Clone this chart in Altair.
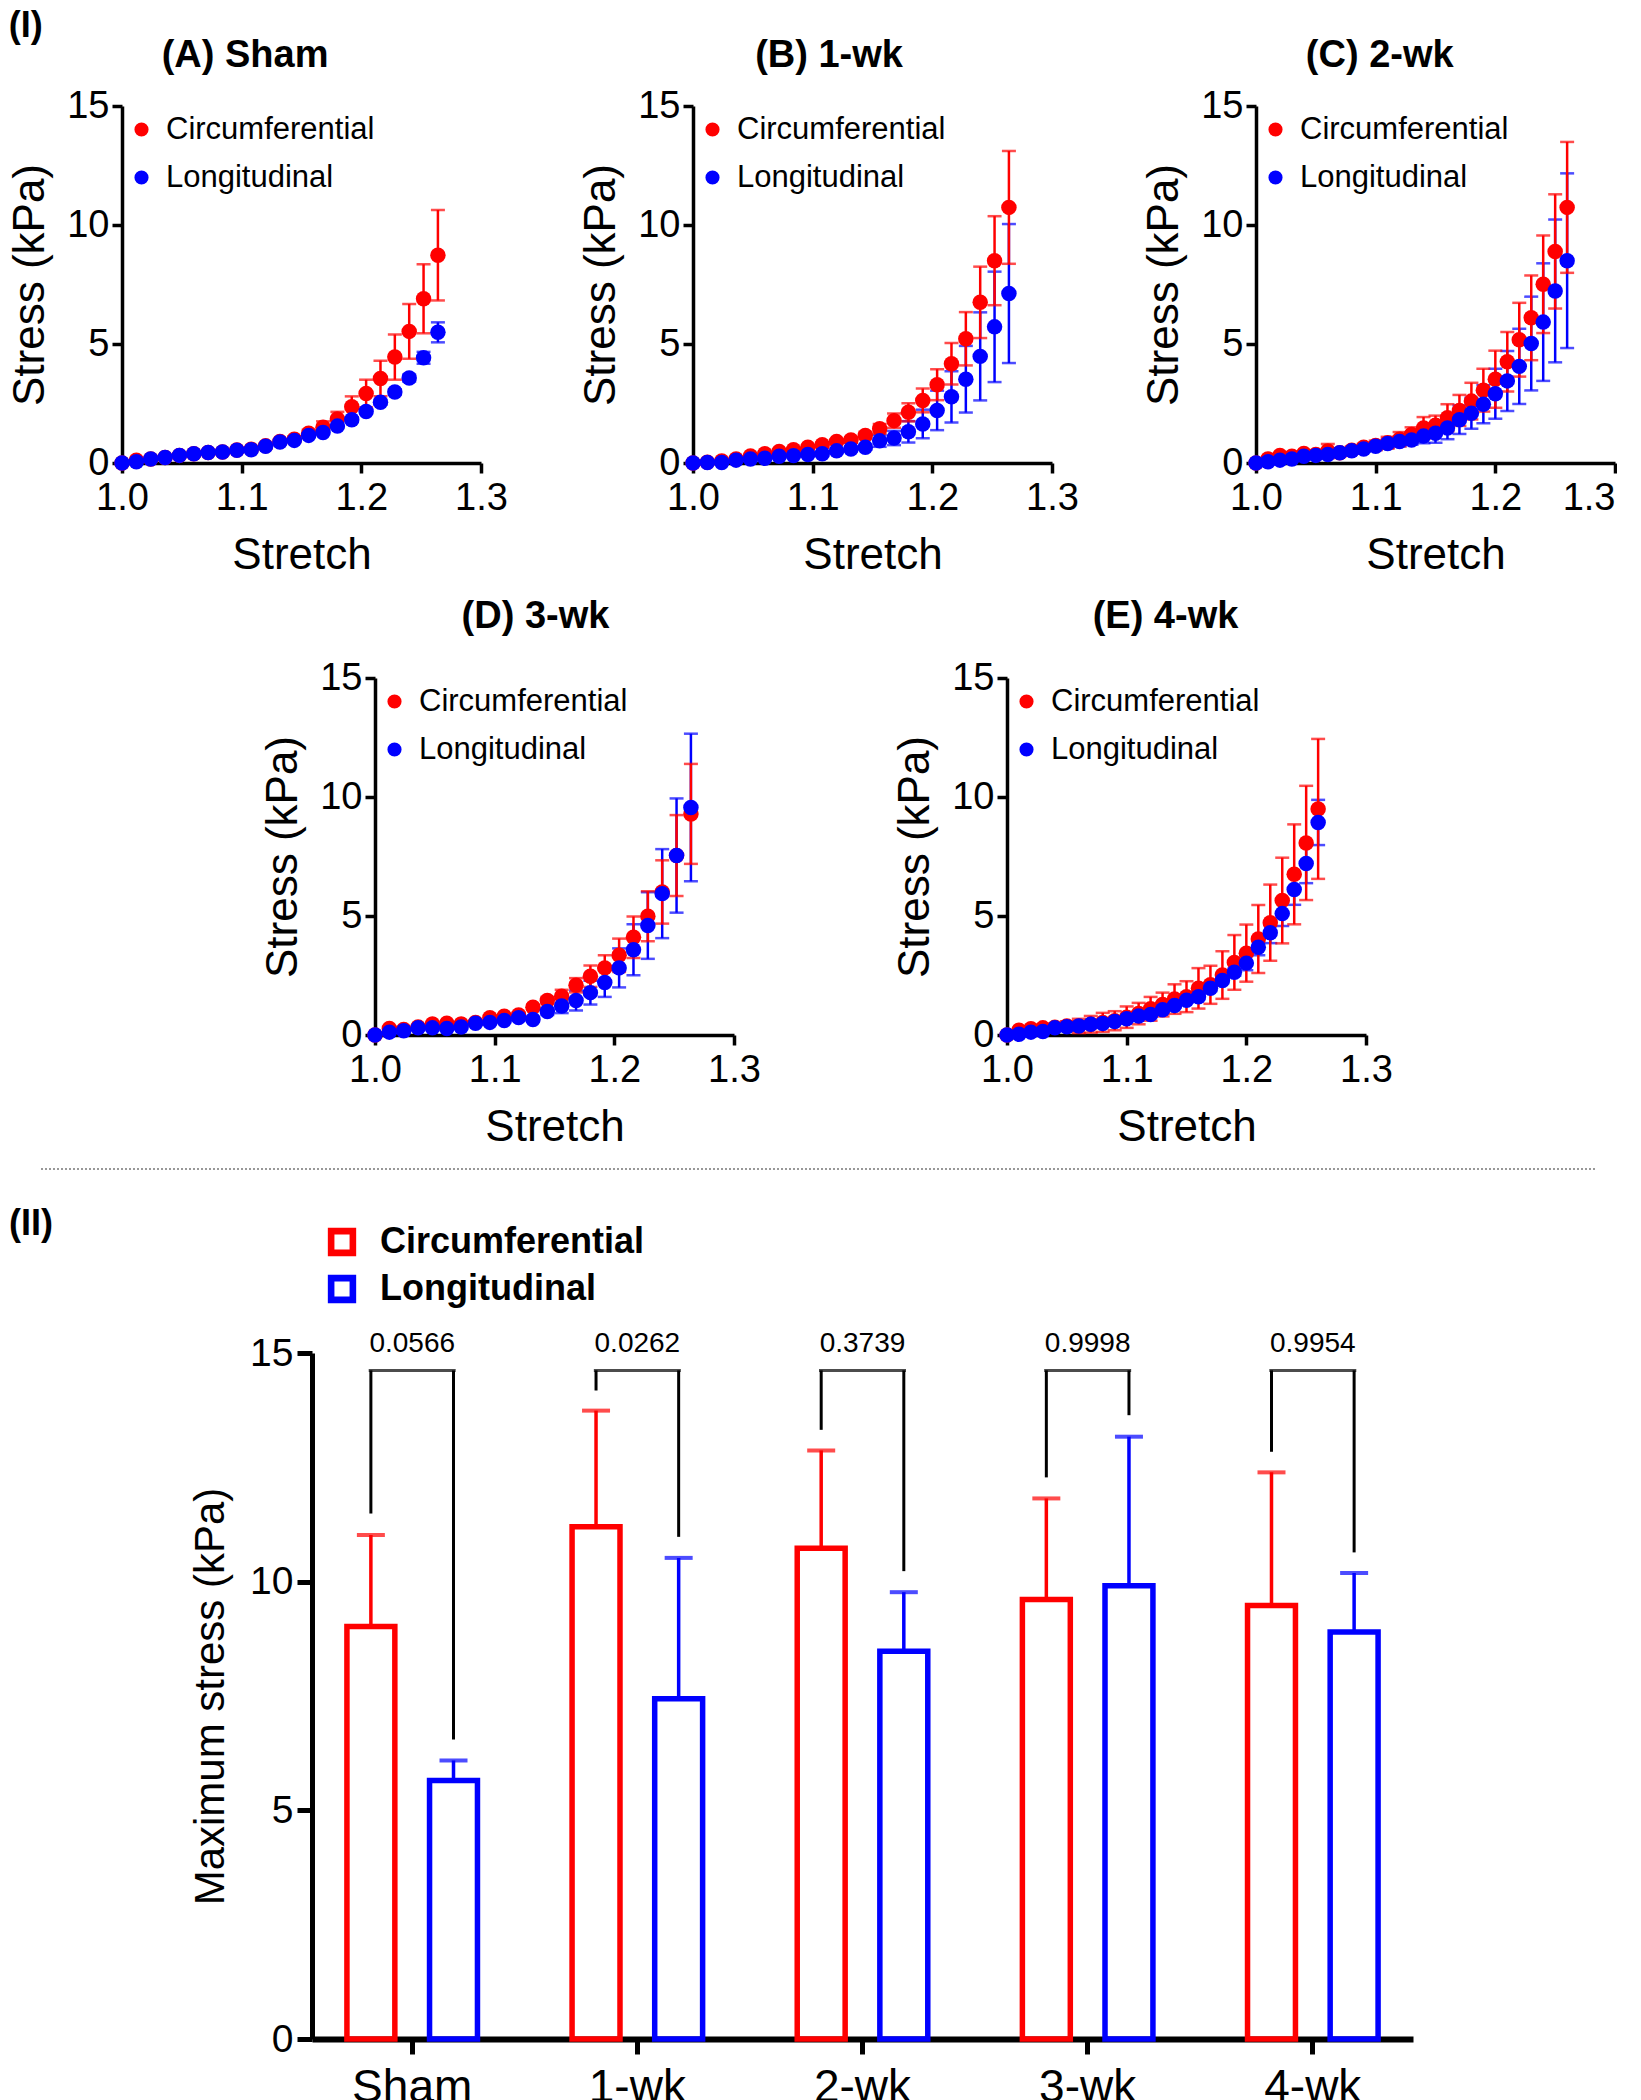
import altair as alt
import pandas as pd

FONT = "Liberation Sans"
RED = "#ff0000"
BLUE = "#0000ff"
SERIES = ["Circumferential", "Longitudinal"]

# ---------------- Panel data (stress-stretch curves) ----------------
stretch_12 = [1.000, 1.012, 1.024, 1.036, 1.048, 1.060, 1.072, 1.084, 1.096, 1.108, 1.120, 1.132,
              1.144, 1.156, 1.168, 1.180, 1.192, 1.204, 1.216, 1.228, 1.240, 1.252, 1.264]
stretch_10 = [1.00, 1.01, 1.02, 1.03, 1.04, 1.05, 1.06, 1.07, 1.08, 1.09, 1.10, 1.11, 1.12, 1.13,
              1.14, 1.15, 1.16, 1.17, 1.18, 1.19, 1.20, 1.21, 1.22, 1.23, 1.24, 1.25, 1.26]

# (A) Sham
a_circ_mean = [0, 0.12, 0.17, 0.23, 0.32, 0.39, 0.44, 0.46, 0.55, 0.58, 0.72, 0.90, 1.00, 1.25, 1.50,
               1.85, 2.36, 2.92, 3.55, 4.45, 5.53, 6.90, 8.73]
a_circ_sd = [0, 0.03, 0.03, 0.03, 0.04, 0.05, 0.05, 0.06, 0.07, 0.08, 0.10, 0.10, 0.12, 0.15, 0.25,
             0.30, 0.44, 0.58, 0.75, 0.95, 1.15, 1.45, 1.90]
a_long_mean = [0, 0.05, 0.17, 0.23, 0.32, 0.39, 0.44, 0.46, 0.54, 0.56, 0.70, 0.88, 0.95, 1.16, 1.28,
               1.55, 1.82, 2.16, 2.55, 2.98, 3.57, 4.42, 5.49]
a_long_sd = [0, 0, 0, 0, 0, 0, 0, 0, 0, 0, 0, 0, 0, 0, 0.05, 0.05, 0.08, 0.10, 0.10, 0.12, 0.15, 0.25, 0.42]

# (B) 1-wk
b_circ_mean = [0, 0.03, 0.08, 0.17, 0.29, 0.39, 0.48, 0.56, 0.66, 0.77, 0.90, 0.97, 1.16, 1.44, 1.78,
               2.13, 2.63, 3.29, 4.17, 5.22, 6.75, 8.50, 10.74]
b_circ_sd = [0, 0, 0.02, 0.03, 0.04, 0.05, 0.06, 0.07, 0.08, 0.08, 0.10, 0.12, 0.15, 0.20, 0.30,
             0.38, 0.50, 0.65, 0.87, 1.12, 1.50, 1.87, 2.37]
b_long_mean = [0, 0.02, 0.02, 0.12, 0.17, 0.20, 0.28, 0.31, 0.36, 0.39, 0.51, 0.59, 0.66, 0.93, 1.05,
               1.31, 1.64, 2.21, 2.78, 3.52, 4.48, 5.72, 7.12]
b_long_sd = [0, 0, 0, 0.02, 0.03, 0.04, 0.05, 0.05, 0.06, 0.07, 0.08, 0.10, 0.10, 0.25, 0.30, 0.45,
             0.60, 0.83, 1.08, 1.40, 1.85, 2.32, 2.92]

# (C) 2-wk
c_circ_mean = [0, 0.17, 0.32, 0.28, 0.40, 0.36, 0.50, 0.43, 0.54, 0.66, 0.74, 0.85, 1.00, 1.20, 1.47,
               1.59, 1.90, 2.21, 2.60, 3.06, 3.52, 4.25, 5.18, 6.10, 7.51, 8.89, 10.74]
c_circ_sd = [0, 0.05, 0.08, 0.10, 0.10, 0.12, 0.30, 0.15, 0.15, 0.15, 0.20, 0.25, 0.30, 0.30, 0.46,
             0.40, 0.57, 0.65, 0.77, 0.90, 1.20, 1.25, 1.55, 1.78, 2.05, 2.40, 2.75]
c_long_mean = [0, 0.05, 0.12, 0.17, 0.28, 0.32, 0.36, 0.43, 0.51, 0.59, 0.70, 0.82, 0.90, 0.97, 1.13,
               1.25, 1.47, 1.82, 2.09, 2.47, 2.91, 3.45, 4.06, 5.02, 5.92, 7.23, 8.50]
c_long_sd = [0, 0.03, 0.05, 0.06, 0.08, 0.08, 0.10, 0.10, 0.10, 0.12, 0.15, 0.18, 0.20, 0.20, 0.30,
             0.40, 0.47, 0.60, 0.65, 0.80, 1.05, 1.26, 1.58, 1.97, 2.47, 3.00, 3.67]

# (D) 3-wk
d_circ_mean = [0, 0.27, 0.23, 0.34, 0.46, 0.49, 0.46, 0.53, 0.73, 0.79, 0.84, 1.17, 1.45, 1.63, 2.09,
               2.47, 2.82, 3.35, 4.11, 4.99, 6.01, 7.54, 9.29]
d_circ_sd = [0, 0.03, 0.03, 0.04, 0.05, 0.05, 0.06, 0.06, 0.08, 0.08, 0.10, 0.10, 0.15, 0.27, 0.30,
             0.45, 0.53, 0.70, 0.87, 1.05, 1.33, 1.70, 2.10]
d_long_mean = [0, 0.12, 0.18, 0.30, 0.30, 0.27, 0.34, 0.49, 0.53, 0.61, 0.73, 0.65, 0.99, 1.22, 1.45,
               1.78, 2.21, 2.82, 3.58, 4.60, 5.94, 7.54, 9.56]
d_long_sd = [0, 0.02, 0.03, 0.03, 0.04, 0.05, 0.05, 0.06, 0.07, 0.08, 0.10, 0.10, 0.15, 0.30, 0.42,
             0.50, 0.61, 0.82, 1.07, 1.40, 1.87, 2.40, 3.10]

# (E) 4-wk
e_circ_mean = [0, 0.20, 0.26, 0.30, 0.33, 0.38, 0.38, 0.45, 0.53, 0.60, 0.75, 0.90, 1.10, 1.28, 1.51,
               1.61, 1.96, 2.11, 2.52, 3.05, 3.44, 4.03, 4.72, 5.65, 6.75, 8.07, 9.50]
e_circ_sd = [0, 0.05, 0.08, 0.10, 0.15, 0.20, 0.30, 0.35, 0.40, 0.40, 0.45, 0.45, 0.50, 0.50, 0.62,
             0.65, 0.85, 0.80, 1.00, 1.15, 1.20, 1.43, 1.60, 1.80, 2.10, 2.40, 2.94]
e_long_mean = [0, 0.03, 0.12, 0.15, 0.30, 0.35, 0.38, 0.45, 0.48, 0.57, 0.68, 0.80, 0.86, 1.06, 1.24,
               1.46, 1.61, 1.96, 2.29, 2.64, 3.02, 3.69, 4.30, 5.10, 6.11, 7.21, 8.93]
e_long_sd = [0, 0.02, 0.03, 0.03, 0.04, 0.05, 0.05, 0.06, 0.06, 0.07, 0.08, 0.08, 0.10, 0.10, 0.10,
             0.10, 0.10, 0.12, 0.12, 0.15, 0.30, 0.34, 0.44, 0.52, 0.64, 0.83, 0.95]

# ---------------- Bar chart data (maximum stress) ----------------
groups = ["Sham", "1-wk", "2-wk", "3-wk", "4-wk"]
circ_max = [9.02, 11.20, 10.73, 9.61, 9.48]
circ_sd = [2.00, 2.54, 2.14, 2.21, 2.91]
long_max = [5.65, 7.44, 8.48, 9.91, 8.90]
long_sd = [0.44, 3.08, 1.29, 3.26, 1.29]
p_values = ["0.0566", "0.0262", "0.3739", "0.9998", "0.9954"]
bracket_left_end = [11.49, 14.18, 13.32, 12.28, 12.84]
bracket_right_end = [6.55, 10.98, 10.23, 13.64, 10.64]
bracket_level = [14.62, 14.62, 14.62, 14.62, 14.62]
p_level = [15.2, 15.2, 15.2, 15.2, 15.2]

PW, PH = 359, 357  # panel plot size
HOLLOW_SQUARE = "M-1,-1H1V1H-1Z M-0.62,-0.62V0.62H0.62V-0.62Z"


# ---------------- Panel builder ----------------
def axis_x(flush_last=False):
    kw = {}
    if flush_last:
        # the right-most panel sits at the page edge: keep its last label inside the page
        kw["labelAlign"] = {"condition": {"test": "datum.value > 1.29", "value": "right"}, "value": "center"}
    return alt.Axis(values=[1.0, 1.1, 1.2, 1.3], format=".1f", title="Stretch", grid=False,
                    labelFlush=False, labelFont=FONT, labelFontSize=38, labelColor="black",
                    titleFont=FONT, titleFontSize=44, titleFontWeight="normal", titleColor="black",
                    domainColor="black", domainWidth=3.5, tickColor="black", tickWidth=3.5, tickSize=10,
                    labelPadding=6, titlePadding=16, **kw)


def axis_y():
    return alt.Axis(values=[0, 5, 10, 15], title="Stress (kPa)", grid=False,
                    labelFont=FONT, labelFontSize=38, labelColor="black",
                    titleFont=FONT, titleFontSize=44, titleFontWeight="normal", titleColor="black",
                    domainColor="black", domainWidth=3.5, tickColor="black", tickWidth=3.5, tickSize=10,
                    labelPadding=3, titlePadding=14)


def make_panel(title, stretch, cm, cs, lm, ls, t_offset, t_frame, t_dx=0, flush_last=False):
    recs = []
    for name, means, sds in (("Circumferential", cm, cs), ("Longitudinal", lm, ls)):
        for s, m, e in zip(stretch, means, sds):
            recs.append({"stretch": s, "stress": m, "lo": m - e, "hi": m + e, "series": name})
    df = pd.DataFrame(recs)
    base = alt.Chart(df)
    xs = alt.Scale(domain=[1.0, 1.3], nice=False, zero=False)
    ys = alt.Scale(domain=[0, 15], nice=False)
    X = alt.X("stretch:Q", scale=xs, axis=axis_x(flush_last))

    def err_layers(name, col):
        b = base.transform_filter(alt.datum.series == name)
        rule = b.mark_rule(color=col, strokeWidth=2.5).encode(
            x=X, y=alt.Y("lo:Q", scale=ys, axis=axis_y()), y2="hi:Q")
        top = b.mark_tick(color=col, orient="horizontal", size=14, thickness=2.5).encode(
            x=X, y=alt.Y("hi:Q", scale=ys, axis=axis_y()))
        bot = b.mark_tick(color=col, orient="horizontal", size=14, thickness=2.5).encode(
            x=X, y=alt.Y("lo:Q", scale=ys, axis=axis_y()))
        return [rule, top, bot]

    pts = base.mark_circle(size=240, opacity=1).encode(
        x=X,
        y=alt.Y("stress:Q", scale=ys, axis=axis_y()),
        color=alt.Color("series:N", scale=alt.Scale(domain=SERIES, range=[RED, BLUE]),
                        legend=alt.Legend(title=None, orient="none", legendX=4, legendY=8,
                                          symbolType="circle", symbolSize=200, symbolStrokeWidth=0,
                                          labelFont=FONT, labelFontSize=31, labelColor="black",
                                          labelOffset=9, rowPadding=16, labelLimit=500, padding=0)),
    )
    layers = [*err_layers("Longitudinal", BLUE), *err_layers("Circumferential", RED), pts]
    return alt.layer(*layers).properties(
        width=PW, height=PH,
        title=alt.TitleParams(title, font=FONT, fontSize=38, fontWeight="bold", color="black",
                              anchor="middle", frame=t_frame, offset=t_offset, dx=t_dx),
    )


pA = make_panel("(A) Sham", stretch_12, a_circ_mean, a_circ_sd, a_long_mean, a_long_sd, 12, "bounds", -13)
pB = make_panel("(B) 1-wk", stretch_12, b_circ_mean, b_circ_sd, b_long_mean, b_long_sd, 12, "bounds")
pC = make_panel("(C) 2-wk", stretch_10, c_circ_mean, c_circ_sd, c_long_mean, c_long_sd, 12, "bounds",
                0, True)
pD = make_panel("(D) 3-wk", stretch_12, d_circ_mean, d_circ_sd, d_long_mean, d_long_sd, 23, "group", -19)
pE = make_panel("(E) 4-wk", stretch_10, e_circ_mean, e_circ_sd, e_long_mean, e_long_sd, 23, "group", -21)

one = pd.DataFrame({"a": [0]})
spacer2 = alt.Chart(one).mark_point(opacity=0).encode(
    x=alt.value(0), y=alt.value(0)).properties(width=139, height=1)

bc = alt.hconcat(pB, pC, spacing=63).resolve_scale(color="independent")
row1 = alt.hconcat(pA, bc, spacing=71).resolve_scale(color="independent")
de = alt.hconcat(pD, pE, spacing=132).resolve_scale(color="independent")
row2 = alt.hconcat(spacer2, de, spacing=0).resolve_scale(color="independent")
inner = alt.vconcat(row1, row2, spacing=21).resolve_scale(color="independent")

# ---------------- Separator ----------------
sep = alt.Chart(one).mark_rule(color="#777777", strokeDash=[2, 2], strokeWidth=1.5).encode(
    x=alt.value(-81), x2=alt.value(1473), y=alt.value(20)
).properties(width=1473, height=57)

# ---------------- Bar chart ----------------
bar_df = pd.DataFrame({
    "group": groups + groups,
    "series": ["Circumferential"] * 5 + ["Longitudinal"] * 5,
    "value": circ_max + long_max,
    "sd": circ_sd + long_sd,
})
bar_df["hi"] = bar_df["value"] + bar_df["sd"]

leg_df = pd.DataFrame({
    "group": groups + groups,
    "series": ["Circumferential"] * 5 + ["Longitudinal"] * 5,
    "leg_lo": bracket_left_end + bracket_right_end,
    "leg_hi": bracket_level + bracket_level,
})
br_df = pd.DataFrame({"group": groups, "p": p_values, "level": bracket_level, "p_y": p_level})

yb = alt.Scale(domain=[0, 15], nice=False)
YAX = alt.Axis(values=[0, 5, 10, 15], title="Maximum stress (kPa)", grid=False,
               labelFont=FONT, labelFontSize=39, labelColor="black",
               titleFont=FONT, titleFontSize=42, titleFontWeight="normal", titleColor="black",
               domainColor="black", domainWidth=5, tickColor="black", tickWidth=5, tickSize=15,
               labelPadding=4, titlePadding=17)
XAX = alt.Axis(title=None, labelAngle=0, labelFont=FONT, labelFontSize=46, labelColor="black",
               domainColor="black", domainWidth=6, tickColor="black", tickWidth=5, tickSize=15,
               labelPadding=11)
XB = alt.X("group:N", sort=groups, scale=alt.Scale(domain=groups, paddingInner=0.2, paddingOuter=0.045), axis=XAX)
XO = alt.XOffset("series:N", sort=SERIES,
                 scale=alt.Scale(domain=SERIES, paddingInner=0.42, paddingOuter=0.3))
col_scale = alt.Scale(domain=SERIES, range=[RED, BLUE])

bars = alt.Chart(bar_df).mark_bar(filled=False, strokeWidth=5.5).encode(
    x=XB, xOffset=XO, y=alt.Y("value:Q", scale=yb, axis=YAX),
    color=alt.Color("series:N", scale=col_scale,
                    legend=alt.Legend(title=None, orient="none", legendX=12, legendY=-129,
                                      symbolType=HOLLOW_SQUARE, symbolSize=720, symbolStrokeWidth=1.5,
                                      labelFont=FONT, labelFontSize=36,
                                      labelFontWeight="bold", labelColor="black", labelOffset=20,
                                      rowPadding=11, labelLimit=600, padding=0)),
)
err_rule = alt.Chart(bar_df).mark_rule(strokeWidth=3.5).encode(
    x=XB, xOffset=XO, y=alt.Y("value:Q", scale=yb, axis=YAX), y2="hi:Q",
    stroke=alt.Stroke("series:N", scale=col_scale, legend=None),
)
err_cap = alt.Chart(bar_df).mark_tick(orient="horizontal", size=28, thickness=4).encode(
    x=XB, xOffset=XO, y=alt.Y("hi:Q", scale=yb, axis=YAX),
    fill=alt.Fill("series:N", scale=col_scale, legend=None),
)
legs = alt.Chart(leg_df).mark_rule(color="black", strokeWidth=3).encode(
    x=XB, xOffset=XO, y=alt.Y("leg_lo:Q", scale=yb, axis=YAX), y2="leg_hi:Q",
)
br_top = alt.Chart(br_df).mark_tick(color="black", orient="horizontal", size=87, thickness=3).encode(
    x=XB, y=alt.Y("level:Q", scale=yb, axis=YAX),
)
p_text = alt.Chart(br_df).mark_text(font=FONT, fontSize=28, color="black", baseline="middle").encode(
    x=XB, y=alt.Y("p_y:Q", scale=yb, axis=YAX), text="p:N",
)
bar_chart = alt.layer(bars, err_rule, err_cap, legs, br_top, p_text).properties(width=1101, height=686)

label2 = alt.Chart(pd.DataFrame({"t": ["(II)"]})).mark_text(
    align="left", baseline="top", font=FONT, fontSize=36, fontWeight="bold", color="black"
).encode(text="t:N", x=alt.value(-113), y=alt.value(-146)).properties(width=67, height=1)

row3 = alt.hconcat(label2, bar_chart, spacing=0).resolve_scale(
    color="independent", stroke="independent", fill="independent")

chart = alt.vconcat(inner, sep, row3, spacing=0).resolve_scale(
    color="independent", stroke="independent", fill="independent"
).properties(
    title=alt.TitleParams("(I)", anchor="start", font=FONT, fontSize=36, fontWeight="bold",
                          color="black", offset=-8),
    padding=0, background="white",
).configure_view(stroke=None)

chart.save("out.html", embed_options={"renderer": "svg", "actions": False})
